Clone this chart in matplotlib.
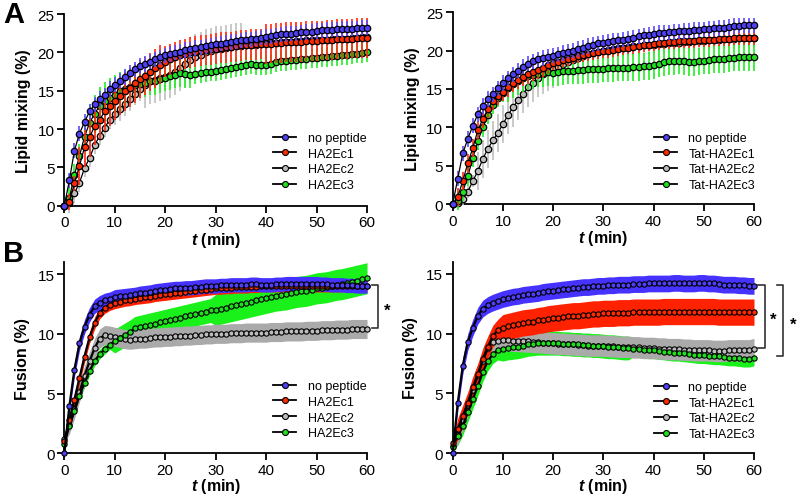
import numpy as np
import matplotlib.pyplot as plt
from matplotlib.lines import Line2D

plt.rcParams['font.family'] = 'Liberation Sans'
plt.rcParams['mathtext.fontset'] = 'custom'
plt.rcParams['mathtext.it'] = 'Liberation Sans:bold:italic'

# time axis, one reading per minute
t = np.arange(0, 61)

labels_a = ['no peptide', 'HA2Ec1', 'HA2Ec2', 'HA2Ec3']
labels_t = ['no peptide', 'Tat-HA2Ec1', 'Tat-HA2Ec2', 'Tat-HA2Ec3']

# ---- A left: lipid mixing (%), HA2Ec peptides
a_none = [0, 3.3, 7.2, 9.4, 10.9, 12.3, 13.2, 13.9, 14.4, 15.2,
          15.8, 16.3, 16.8, 17.3, 17.8, 18.2, 18.5, 18.8, 19.1, 19.35,
          19.6, 19.8, 19.95, 20.1, 20.3, 20.4, 20.55, 20.65, 20.8, 20.9,
          21.05, 21.15, 21.25, 21.35, 21.45, 21.55, 21.65, 21.7, 21.8, 21.9,
          22.0, 22.1, 22.2, 22.35, 22.4, 22.45, 22.5, 22.6, 22.65, 22.7,
          22.8, 22.85, 22.9, 22.95, 23.0, 23.05, 23.1, 23.1, 23.15, 23.2,
          23.2]
a_ec1 = [0, 0.5, 2.9, 5.2, 7.6, 8.9, 10.4, 11.2, 12.3, 12.95,
         13.7, 14.35, 14.9, 15.4, 15.95, 16.5, 16.9, 17.4, 17.9, 18.4,
         18.8, 19.1, 19.4, 19.6, 19.8, 20.0, 20.1, 20.2, 20.3, 20.4,
         20.5, 20.6, 20.65, 20.7, 20.8, 20.9, 20.95, 21.0, 21.05, 21.1,
         21.1, 21.15, 21.2, 21.25, 21.3, 21.3, 21.35, 21.4, 21.45, 21.5,
         21.5, 21.55, 21.6, 21.65, 21.7, 21.7, 21.75, 21.8, 21.85, 21.9,
         21.9]
a_ec2 = [0, 0.3, 1.6, 3.0, 4.9, 6.2, 7.9, 9.1, 10.2, 11.2,
         12.0, 12.6, 13.2, 13.9, 14.6, 15.2, 15.8, 16.2, 16.4, 16.6,
         16.8, 17.1, 17.5, 18.0, 18.5, 19.0, 19.4, 19.7, 20.0, 20.2,
         20.4, 20.5, 20.6, 20.7, 20.8, 20.85, 20.9, 20.95, 21.0, 21.1,
         21.2, 21.2, 21.25, 21.3, 21.35, 21.4, 21.45, 21.5, 21.55, 21.55,
         21.6, 21.6, 21.65, 21.7, 21.7, 21.75, 21.8, 21.85, 21.9, 21.95,
         22.0]
a_ec3 = [0, 1.0, 4.0, 6.5, 9.0, 10.8, 12.0, 13.0, 13.6, 14.1,
         14.5, 14.9, 15.2, 15.5, 15.7, 15.9, 16.0, 16.2, 16.3, 16.5,
         16.7, 16.9, 17.1, 17.3, 17.2, 17.1, 17.2, 17.3, 17.4, 17.5,
         17.6, 17.7, 17.8, 17.95, 18.1, 18.2, 18.35, 18.45, 18.4, 18.3,
         18.35, 18.5, 18.7, 18.85, 18.9, 18.95, 19.05, 19.1, 19.15, 19.2,
         19.3, 19.35, 19.4, 19.5, 19.55, 19.6, 19.7, 19.8, 19.85, 19.9,
         20.0]
a_none_err = [0] + [1.0] * 60
a_ec1_err = [0] + [1.0] * 2 + [2.5] * 17 + [2.0] * 20 + [2.6] * 21
a_ec2_err = [0] + [1.2] * 9 + [1.5] * 6 + [3.0] * 20 + [1.5] * 25
a_ec3_err = [0] + [1.5] * 4 + [2.5] * 8 + [1.8] * 13 + [1.3] * 35

# ---- A right: lipid mixing (%), Tat-HA2Ec peptides
at_none = [0, 3.3, 6.6, 8.5, 10.2, 11.7, 12.8, 13.7, 14.3, 15.1,
           15.8, 16.4, 16.9, 17.4, 17.9, 18.3, 18.6, 18.85, 19.05, 19.2,
           19.35, 19.5, 19.7, 19.85, 20.0, 20.2, 20.4, 20.6, 20.8, 20.95,
           21.05, 21.15, 21.25, 21.35, 21.45, 21.55, 21.7, 21.85, 22.0, 22.1,
           22.2, 22.3, 22.35, 22.4, 22.45, 22.5, 22.55, 22.6, 22.7, 22.75,
           22.8, 22.85, 22.9, 22.95, 23.0, 23.1, 23.2, 23.25, 23.3, 23.3,
           23.3]
at_ec1 = [0, 0.9, 3.0, 5.3, 7.3, 9.6, 11.1, 12.4, 13.4, 14.1,
          14.6, 15.2, 15.8, 16.2, 16.6, 16.9, 17.2, 17.5, 17.8, 18.1,
          18.35, 18.55, 18.75, 18.9, 19.1, 19.25, 19.4, 19.5, 19.65, 19.8,
          19.9, 20.0, 20.1, 20.2, 20.3, 20.4, 20.5, 20.6, 20.7, 20.8,
          20.9, 21.0, 21.05, 21.1, 21.15, 21.2, 21.25, 21.3, 21.3, 21.35,
          21.4, 21.4, 21.45, 21.5, 21.5, 21.55, 21.6, 21.6, 21.65, 21.7,
          21.7]
at_ec2 = [0, 0.1, 0.7, 1.6, 3.0, 4.3, 5.9, 7.2, 8.3, 9.3,
          10.4, 11.6, 12.6, 13.5, 14.4, 15.2, 15.8, 16.4, 16.9, 17.3,
          17.6, 17.9, 18.2, 18.5, 18.8, 19.1, 19.3, 19.5, 19.7, 19.85,
          20.0, 20.1, 20.2, 20.3, 20.4, 20.5, 20.55, 20.6, 20.7, 20.75,
          20.8, 20.85, 20.9, 20.95, 21.0, 21.05, 21.1, 21.15, 21.2, 21.25,
          21.3, 21.35, 21.4, 21.45, 21.5, 21.5, 21.55, 21.6, 21.6, 21.65,
          21.7]
at_ec3 = [0, 0.4, 1.6, 3.6, 6.0, 8.2, 10.0, 11.6, 12.9, 13.8,
          14.5, 15.1, 15.6, 16.0, 16.4, 16.65, 16.85, 17.0, 17.1, 17.2,
          17.15, 17.2, 17.3, 17.4, 17.4, 17.45, 17.5, 17.55, 17.6, 17.6,
          17.65, 17.7, 17.75, 17.8, 17.8, 17.8, 17.85, 17.9, 17.95, 18.0,
          18.1, 18.3, 18.5, 18.6, 18.65, 18.7, 18.6, 18.55, 18.5, 18.6,
          18.7, 18.8, 18.85, 18.9, 18.95, 19.05, 19.1, 19.15, 19.2, 19.2,
          19.2]
at_none_err = [0] + [1.0] * 60
at_ec1_err = [0] + [1.2] * 19 + [0.9] * 41
at_ec2_err = [0] + [0.8] * 4 + [2.5] * 16 + [1.2] * 40
at_ec3_err = [0] + [1.2] * 10 + [1.8] * 50

# ---- B left: fusion (%), HA2Ec peptides
b_none = [0, 3.95, 7.0, 9.2, 10.6, 11.6, 12.3, 12.6, 12.8, 12.9,
          13.1, 13.15, 13.2, 13.25, 13.3, 13.4, 13.45, 13.5, 13.6, 13.65,
          13.7, 13.75, 13.8, 13.8, 13.85, 13.85, 13.9, 13.95, 14.0, 14.0,
          14.0, 14.05, 14.05, 14.1, 14.1, 14.1, 14.1, 14.15, 14.15, 14.1,
          14.1, 14.1, 14.15, 14.15, 14.2, 14.2, 14.2, 14.2, 14.2, 14.2,
          14.2, 14.15, 14.15, 14.1, 14.1, 14.1, 14.05, 14.05, 14.0, 14.0,
          14.0]
b_ec1 = [1.0, 2.8, 4.5, 6.3, 8.1, 9.7, 10.9, 11.75, 12.2, 12.45,
         12.6, 12.7, 12.8, 12.85, 12.95, 13.0, 13.05, 13.1, 13.2, 13.25,
         13.3, 13.35, 13.4, 13.45, 13.5, 13.55, 13.6, 13.65, 13.7, 13.75,
         13.8, 13.8, 13.85, 13.85, 13.9, 13.9, 13.9, 13.95, 13.95, 14.0,
         14.0, 14.0, 14.0, 14.0, 14.0, 14.0, 14.0, 14.0, 14.0, 14.0,
         14.0, 14.0, 14.0, 14.0, 14.0, 14.0, 14.0, 14.0, 14.0, 14.0,
         14.0]
b_ec2 = [1.2, 2.4, 3.7, 5.1, 6.5, 7.7, 8.8, 9.6, 9.9, 9.85,
         9.75, 9.65, 9.55, 9.5, 9.55, 9.6, 9.6, 9.65, 9.7, 9.7,
         9.75, 9.75, 9.8, 9.8, 9.85, 9.85, 9.9, 9.9, 9.95, 9.95,
         10.0, 10.0, 10.0, 10.05, 10.05, 10.05, 10.1, 10.1, 10.1, 10.1,
         10.1, 10.15, 10.15, 10.15, 10.2, 10.2, 10.2, 10.2, 10.25, 10.25,
         10.25, 10.3, 10.3, 10.3, 10.35, 10.35, 10.35, 10.4, 10.4, 10.4,
         10.4]
b_ec3 = [0.8, 2.3, 3.5, 4.8, 5.9, 6.9, 7.7, 8.3, 8.7, 9.1,
         9.4, 9.65, 9.9, 10.15, 10.45, 10.55, 10.65, 10.75, 10.85, 10.95,
         11.05, 11.15, 11.25, 11.35, 11.45, 11.55, 11.65, 11.75, 11.85, 11.95,
         12.0, 12.1, 12.2, 12.3, 12.4, 12.5, 12.6, 12.7, 12.8, 12.9,
         13.0, 13.1, 13.2, 13.25, 13.3, 13.4, 13.5, 13.55, 13.6, 13.7,
         13.8, 13.85, 13.9, 14.0, 14.1, 14.15, 14.25, 14.35, 14.45, 14.55,
         14.65]
b_none_err = [0.2] + [0.6] * 60
b_ec1_err = [0.3] + [0.5] * 60
b_ec2_err = [0.3] + [0.8] * 60
b_ec3_err = [0.2] + [0.4] * 9 + [1.0] * 20 + [1.3] * 31

# ---- B right: fusion (%), Tat-HA2Ec peptides
bt_none = [0, 4.2, 7.3, 9.3, 10.5, 11.5, 12.1, 12.4, 12.6, 12.75,
           12.9, 13.0, 13.1, 13.15, 13.25, 13.3, 13.35, 13.4, 13.5, 13.55,
           13.6, 13.65, 13.7, 13.75, 13.8, 13.85, 13.9, 13.9, 13.95, 14.0,
           14.0, 14.05, 14.05, 14.1, 14.1, 14.1, 14.15, 14.15, 14.15, 14.2,
           14.2, 14.2, 14.2, 14.2, 14.25, 14.25, 14.2, 14.2, 14.2, 14.25,
           14.25, 14.2, 14.2, 14.15, 14.1, 14.1, 14.1, 14.05, 14.05, 14.0,
           14.0]
bt_ec1 = [0.8, 2.0, 3.1, 4.2, 5.5, 6.6, 7.9, 8.9, 9.8, 10.3,
          10.5, 10.6, 10.7, 10.8, 10.9, 10.95, 11.0, 11.1, 11.15, 11.25,
          11.3, 11.35, 11.4, 11.45, 11.5, 11.5, 11.55, 11.6, 11.65, 11.65,
          11.7, 11.7, 11.7, 11.75, 11.75, 11.75, 11.8, 11.8, 11.8, 11.8,
          11.8, 11.8, 11.85, 11.85, 11.85, 11.85, 11.85, 11.85, 11.85, 11.85,
          11.85, 11.85, 11.85, 11.8, 11.8, 11.8, 11.8, 11.8, 11.8, 11.8,
          11.8]
bt_ec2 = [0.6, 1.6, 2.8, 4.0, 5.3, 6.5, 7.7, 8.8, 9.3, 9.4,
          9.45, 9.45, 9.4, 9.4, 9.35, 9.35, 9.3, 9.3, 9.25, 9.2,
          9.2, 9.15, 9.15, 9.1, 9.1, 9.05, 9.05, 9.0, 9.0, 9.0,
          9.0, 8.95, 8.95, 8.9, 8.9, 8.9, 8.85, 8.85, 8.8, 8.8,
          8.8, 8.75, 8.75, 8.7, 8.7, 8.7, 8.65, 8.65, 8.6, 8.6,
          8.6, 8.6, 8.55, 8.55, 8.55, 8.6, 8.6, 8.6, 8.6, 8.6,
          8.7]
bt_ec3 = [0.5, 1.45, 2.3, 3.4, 4.5, 5.6, 6.8, 7.7, 8.3, 8.6,
          8.7, 8.8, 8.85, 8.9, 9.0, 9.1, 9.15, 9.2, 9.2, 9.2,
          9.2, 9.2, 9.15, 9.15, 9.1, 9.1, 9.05, 9.05, 9.0, 9.0,
          8.95, 8.9, 8.9, 8.85, 8.8, 8.8, 8.75, 8.7, 8.65, 8.6,
          8.6, 8.55, 8.5, 8.45, 8.4, 8.4, 8.35, 8.3, 8.25, 8.2,
          8.2, 8.15, 8.1, 8.1, 8.05, 8.0, 8.0, 7.95, 7.9, 7.9,
          8.0]
bt_none_err = [0.2] + [0.7] * 60
bt_ec1_err = [0.3] + [0.9] * 9 + [1.1] * 51
bt_ec2_err = [0.3] + [0.9] * 60
bt_ec3_err = [0.2] + [0.8] * 9 + [1.0] * 26 + [0.7] * 25

# colours: no peptide, Ec1, Ec2, Ec3
fills = ['#4f3ff5', '#ff2a00', '#bcbcbc', '#1fe01f']
bars = ['#5a4bff', '#ff2a10', '#c0c0c0', '#22ee22']
bands = ['#4632ff', '#ff2200', '#aaaaaa', '#1af01a']

fig = plt.figure(figsize=(8, 5.02), dpi=100)


def style_axes(ax, ymax, yticks, ylabel, xlab_y, ylab_x):
    ax.set_xlim(0, 60)
    ax.set_ylim(0, ymax)
    ax.set_xticks(range(0, 61, 10))
    ax.set_yticks(yticks)
    for s in ['top', 'right']:
        ax.spines[s].set_visible(False)
    for s in ['left', 'bottom']:
        ax.spines[s].set_linewidth(1.3)
    ax.tick_params(direction='out', length=5, width=1.3, labelsize=11, pad=2)
    ax.set_xlabel(r'$t$ (min)', fontsize=11.5, fontweight='bold')
    ax.set_ylabel(ylabel, fontsize=11.5, fontweight='bold')
    ax.xaxis.set_label_coords(0.5, xlab_y)
    ax.yaxis.set_label_coords(ylab_x, 0.5)


def add_legend(ax, labels, x, y):
    handles = [Line2D([], [], color='black', lw=1.3, marker='o', ms=4.3,
                      mfc=fills[i], mec='black', mew=0.8) for i in range(4)]
    ax.legend(handles, labels, loc='upper left', bbox_to_anchor=(x, y),
              frameon=False, fontsize=9, handlelength=1.85, handletextpad=0.9,
              labelspacing=0.3, borderpad=0, borderaxespad=0)


def lipid_panel(ax, series, errs, labels, leg_x, leg_y):
    for k, i in enumerate([2, 3, 1, 0]):
        ax.errorbar(t, series[i], yerr=errs[i], fmt='-o', color='black', lw=0.9,
                    ms=4.6, mfc=fills[i], mec='black', mew=0.9,
                    ecolor=bars[i], elinewidth=1.2, capsize=0,
                    clip_on=False, zorder=3 + k)
    style_axes(ax, 25, range(0, 26, 5), 'Lipid mixing (%)', -0.125, -0.11)
    add_legend(ax, labels, leg_x, leg_y)


def fusion_panel(ax, series, errs, labels, leg_x, leg_y):
    for k, i in enumerate([3, 2, 1, 0]):
        y = np.array(series[i])
        e = np.array(errs[i])
        ax.fill_between(t, y - e, y + e, color=bands[i], lw=0, zorder=1 + k)
    for k, i in enumerate([2, 3, 1, 0]):
        ax.plot(t, series[i], '-o', color='black', lw=1.6, ms=3.8,
                mfc=fills[i], mec='black', mew=0.8, clip_on=False, zorder=10 + k)
    style_axes(ax, 16, range(0, 16, 5), 'Fusion (%)', -0.12, -0.115)
    add_legend(ax, labels, leg_x, leg_y)


def bracket(ax, x, y0, y1, tick):
    ax.plot([x - tick, x, x, x - tick], [y0, y0, y1, y1], color='#333333',
            lw=1.2, clip_on=False)


ax1 = fig.add_axes([0.0804, 0.5882, 0.3784, 0.3819])
lipid_panel(ax1, [a_none, a_ec1, a_ec2, a_ec3],
            [a_none_err, a_ec1_err, a_ec2_err, a_ec3_err], labels_a, 0.69, 0.385)

ax2 = fig.add_axes([0.5659, 0.5916, 0.3766, 0.3819])
lipid_panel(ax2, [at_none, at_ec1, at_ec2, at_ec3],
            [at_none_err, at_ec1_err, at_ec2_err, at_ec3_err], labels_t, 0.668, 0.376)

ax3 = fig.add_axes([0.0804, 0.0950, 0.3784, 0.3809])
fusion_panel(ax3, [b_none, b_ec1, b_ec2, b_ec3],
             [b_none_err, b_ec1_err, b_ec2_err, b_ec3_err], labels_a, 0.69, 0.383)
bracket(ax3, 62.2, 14.1, 10.5, 1.2)
ax3.text(64.0, 12.0, '*', fontsize=12, fontweight='bold', ha='center', va='center')

ax4 = fig.add_axes([0.5659, 0.0956, 0.3766, 0.3805])
fusion_panel(ax4, [bt_none, bt_ec1, bt_ec2, bt_ec3],
             [bt_none_err, bt_ec1_err, bt_ec2_err, bt_ec3_err], labels_t, 0.668, 0.377)
bracket(ax4, 62.2, 14.1, 8.8, 1.4)
bracket(ax4, 65.8, 14.1, 8.1, 1.2)
ax4.text(63.8, 11.2, '*', fontsize=12, fontweight='bold', ha='center', va='center')
ax4.text(67.8, 10.8, '*', fontsize=12, fontweight='bold', ha='center', va='center')

fig.text(0.004, 0.97, 'A', fontsize=21, fontweight='bold', ha='left', va='center')
fig.text(0.004, 0.494, 'B', fontsize=21, fontweight='bold', ha='left', va='center')

fig.savefig('out.png', dpi=100)
